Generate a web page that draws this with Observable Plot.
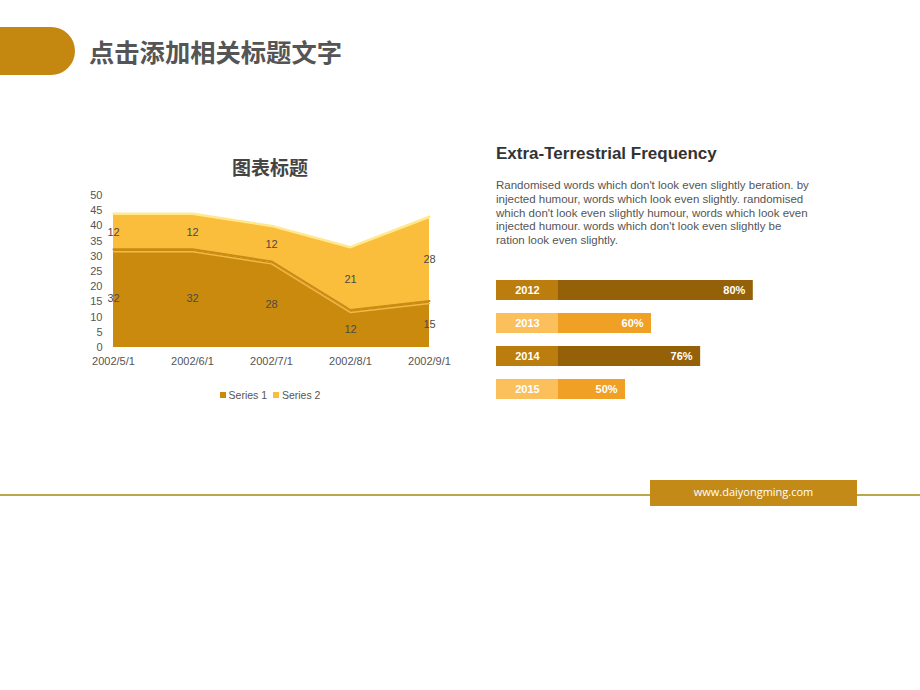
<!DOCTYPE html>
<html>
<head>
<meta charset="utf-8">
<script src="https://cdn.jsdelivr.net/npm/d3@7"></script>
<script src="https://cdn.jsdelivr.net/npm/@observablehq/plot@0.6"></script>
<style>
  html, body { margin: 0; padding: 0; background: #fff; }
  #page { position: relative; width: 920px; height: 690px; overflow: hidden; background: #fff;
          font-family: "Liberation Sans", Arial, sans-serif; }
  .abs { position: absolute; }
  #hdrbar { left: -20px; top: 27px; width: 95px; height: 48px; background: #C4870F; border-radius: 0 24px 24px 0; }
  #hdrtxt { left: 89px; top: 33px; font: bold 25.3px "Noto Sans CJK SC", sans-serif; color: #555; line-height: 36px; }
  #ctitle { left: 170px; width: 200px; top: 153px; text-align: center; font: bold 19px "Noto Sans CJK SC", sans-serif; color: #444; line-height: 28px; }
  #legend { left: 170px; width: 200px; top: 389px; text-align: center; font-size: 10.5px; color: #555; }
  #legend span.sw { display: inline-block; width: 6px; height: 6px; margin-right: 3px; vertical-align: 1px; }
  #rtitle { left: 496px; top: 144px; font: bold 17px "Liberation Sans", Arial, sans-serif; color: #333; }
  #rtext { left: 496px; top: 179px; width: 314.5px; font-size: 11.5px; line-height: 13.8px; color: #555; }
  #fline { left: 0; top: 494px; width: 920px; height: 2px; background: #BBA84A; }
  #fbox { left: 650px; top: 480px; width: 207px; height: 26px; background: #C38A17; color: #fff;
          font: 11px "Open Sans", "Liberation Sans", sans-serif; text-align: center; line-height: 24px; }
  #area { left: 70px; top: 185px; }
  #bars { left: 496px; top: 272.5px; }
</style>
</head>
<body>
<div id="page">
  <div id="hdrbar" class="abs"></div>
  <div id="hdrtxt" class="abs">点击添加相关标题文字</div>
  <div id="ctitle" class="abs">图表标题</div>
  <div id="area" class="abs"></div>
  <div id="legend" class="abs"></div>
  <div id="rtitle" class="abs">Extra-Terrestrial Frequency</div>
  <div id="rtext" class="abs">Randomised words which don't look even slightly beration. by injected humour, words which look even slightly. randomised which don't look even slightly humour, words which look even injected humour. words which don't look even slightly be ration look even slightly.</div>
  <div id="bars" class="abs"></div>
  <div id="fline" class="abs"></div>
  <div id="fbox" class="abs">www.daiyongming.com</div>
</div>
<script>
// ---- Area chart data ----
const dates = ["2002/5/1", "2002/6/1", "2002/7/1", "2002/8/1", "2002/9/1"];
const seriesNames = ["Series 1", "Series 2"];
const series1 = [32, 32, 28, 12, 15];
const series2 = [12, 12, 12, 21, 28];
const yTicks = [0, 5, 10, 15, 20, 25, 30, 35, 40, 45, 50];
const seriesColors = ["#C98A0E", "#FBBE3C"];

// ---- Bar chart data ----
const years = ["2012", "2013", "2014", "2015"];
const pctLabels = ["80%", "60%", "76%", "50%"];
const barLengths = [80, 48.3, 63.6, 40.2];   // drawn lengths
const yearBoxColors = ["#BA7D0E", "#FBC05C", "#BA7D0E", "#FBC05C"];
const valueColors = ["#946108", "#F0A024", "#946108", "#F0A024"];

const rows = [];
dates.forEach((d, i) => {
  rows.push({date: d, series: seriesNames[0], value: series1[i]});
  rows.push({date: d, series: seriesNames[1], value: series2[i]});
});

const only = name => d => d.series === name ? 1 : 0;

const areaPlot = Plot.plot({
  width: 400, height: 190,
  marginLeft: 42, marginRight: 41, marginTop: 10, marginBottom: 28,
  style: {fontFamily: "Liberation Sans, Arial, sans-serif", fontSize: "11px", color: "#555", background: "transparent"},
  x: {type: "point", domain: dates, padding: 0, label: null},
  y: {domain: [0, 50], ticks: yTicks, label: null},
  color: {domain: seriesNames, range: seriesColors},
  marks: [
    Plot.gridY(yTicks, {stroke: "#ddd", strokeOpacity: 1, x1: dates[0], x2: dates[4], insetRight: -4}),
    Plot.areaY(rows, {x: "date", y: "value", fill: "series", order: seriesNames, curve: "linear"}),
    // top highlight of series 2
    Plot.lineY(rows, Plot.stackY2({x: "date", y: "value", z: "series", order: seriesNames,
      strokeOpacity: only("Series 2"), stroke: "#FFE98E", strokeWidth: 2.5})),
    // bevel at top of series 1
    Plot.lineY(rows, Plot.stackY2({x: "date", y: "value", z: "series", order: seriesNames,
      strokeOpacity: only("Series 1"), stroke: "#C98B14", strokeWidth: 2, dy: -1})),
    Plot.lineY(rows, Plot.stackY2({x: "date", y: "value", z: "series", order: seriesNames,
      strokeOpacity: only("Series 1"), stroke: "#F3B845", strokeWidth: 1.5, dy: 1.5})),
    Plot.ruleY([0], {stroke: "#A86F06", strokeWidth: 3, dy: -1.5, x1: dates[0], x2: dates[4]}),
    Plot.text(rows, Plot.stackY({x: "date", y: "value", z: "series", order: seriesNames,
      text: d => String(d.value), fill: "#4a4a4a", fontSize: 11})),
    Plot.axisY(yTicks, {tickSize: 0, tickPadding: 10, fill: "#555", fontSize: 11}),
    Plot.axisX(dates, {tickSize: 0, tickPadding: 10, fill: "#555", fontSize: 11})
  ]
});
document.getElementById("area").appendChild(areaPlot);

// legend
const leg = document.getElementById("legend");
leg.innerHTML = seriesNames.map((s, i) =>
  `<span class="sw" style="background:${seriesColors[i]}"></span>${s}`).join("&nbsp;&nbsp;");

// ---- Bar chart ----
const barRows = years.map((y, i) => ({year: y, pct: pctLabels[i], len: barLengths[i],
  boxColor: yearBoxColors[i], valColor: valueColors[i]}));
const yearBoxEnd = 19.3;
const barPlot = Plot.plot({
  width: 330, height: 132,
  margin: 0,
  style: {fontFamily: "Liberation Sans, Arial, sans-serif", background: "transparent"},
  x: {domain: [0, 100], range: [0, 321], axis: null},
  y: {domain: years, paddingInner: 0.394, paddingOuter: 0.197, axis: null},
  marks: [
    Plot.barX(barRows, {y: "year", x1: 0, x2: "len", fill: "valColor"}),
    Plot.barX(barRows, {y: "year", x1: 0, x2: yearBoxEnd, fill: "boxColor"}),
    Plot.text(barRows, {y: "year", x: yearBoxEnd / 2, text: "year", fill: "#fff", fontWeight: "bold", fontSize: 11}),
    Plot.text(barRows, {y: "year", x: "len", text: "pct", dx: -8, textAnchor: "end", fill: "#fff", fontWeight: "bold", fontSize: 11})
  ]
});
document.getElementById("bars").appendChild(barPlot);
</script>
</body>
</html>
